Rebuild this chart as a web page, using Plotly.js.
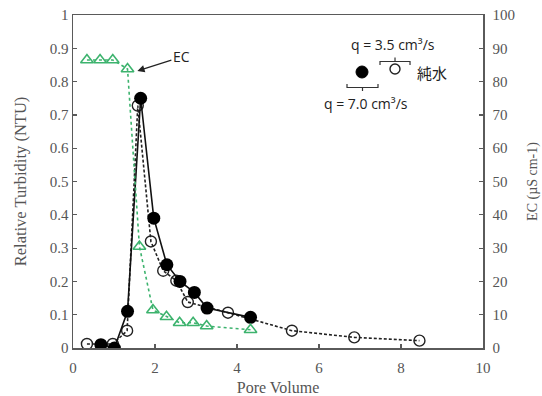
<!DOCTYPE html>
<html>
<head>
<meta charset="utf-8">
<script src="https://cdn.plot.ly/plotly-3.0.1.min.js"></script>
<style>html,body{margin:0;padding:0;background:#fff;}#chart{width:542px;height:396px;}</style>
</head>
<body>
<div id="chart"></div>
<script>
// q = 7.0 cm3/s (filled circles), relative turbidity
const fastPV = [0.68, 1.01, 1.33, 1.65, 1.97, 2.29, 2.61, 2.96, 3.27, 4.33];
const fastTurb = [0.01, 0.0, 0.11, 0.75, 0.39, 0.25, 0.20, 0.167, 0.12, 0.092];
// q = 3.5 cm3/s (open circles), relative turbidity
const slowPV = [0.34, 0.97, 1.32, 1.58, 1.90, 2.20, 2.52, 2.80, 3.78, 5.34, 6.86, 8.45];
const slowTurb = [0.012, 0.012, 0.052, 0.728, 0.32, 0.232, 0.202, 0.138, 0.106, 0.052, 0.032, 0.022];
// EC (right axis)
const ecPV = [0.34, 0.66, 0.97, 1.33, 1.62, 1.95, 2.28, 2.60, 2.93, 3.26, 4.33];
const ecVal = [86.5, 86.5, 86.5, 83.8, 30.5, 11.4, 9.4, 7.6, 7.6, 6.6, 5.5];

const green = '#3db36e';
const axisGray = '#5a5a5a';
const serif = 'Liberation Serif';
const sans = 'Open Sans';

// plot area pixel geometry (for legend decorations)
const L = 73, R = 483, T = 15, B = 348;
const px = x => (x - L) / (R - L);
const py = y => (B - y) / (B - T);

const traces = [
  {x: ecPV, y: ecVal, yaxis: 'y2', mode: 'lines+markers', type: 'scatter',
   line: {color: green, width: 1.6, dash: 'dot'},
   marker: {symbol: 'triangle-up-open', size: 11, color: green, line: {width: 1.6, color: green}}},
  {x: slowPV, y: slowTurb, mode: 'lines+markers', type: 'scatter',
   line: {color: '#222', width: 1.6, dash: '3px,2px'},
   marker: {symbol: 'circle-open', size: 11, color: '#222', line: {width: 1.4, color: '#222'}}},
  {x: fastPV, y: fastTurb, mode: 'lines+markers', type: 'scatter',
   line: {color: '#111', width: 1.6},
   marker: {symbol: 'circle', size: 13, color: '#000'}}
];

const tickFont = {family: serif, size: 15, color: '#555'};

function pathStr(pts) {
  return pts.map(s => s[0] + ' ' + px(s[1]).toFixed(4) + ',' + py(s[2]).toFixed(4)).join(' ');
}

const layout = {
  width: 542, height: 396,
  margin: {l: L, r: 542 - R, t: T, b: 396 - B},
  paper_bgcolor: '#fff', plot_bgcolor: '#fff',
  showlegend: false,
  font: {family: serif},
  xaxis: {range: [0, 10], dtick: 2, showgrid: false, zeroline: false,
    showline: true, linecolor: axisGray, linewidth: 1.5, mirror: true,
    ticks: 'inside', ticklen: 4, tickcolor: axisGray, tickwidth: 1.2, ticklabelstandoff: 5,
    tickfont: tickFont, title: {text: 'Pore Volume', font: {family: serif, size: 16, color: '#555'}, standoff: 8}},
  yaxis: {range: [0, 1], dtick: 0.1, showgrid: false, zeroline: false,
    showline: true, linecolor: axisGray, linewidth: 1.5,
    ticks: 'inside', ticklen: 4, tickcolor: axisGray, tickwidth: 1.2,
    tickfont: tickFont, title: {text: 'Relative Turbidity (NTU)', font: {family: serif, size: 16.5, color: '#555'}, standoff: 19}},
  yaxis2: {range: [0, 100], dtick: 10, overlaying: 'y', side: 'right', showgrid: false, zeroline: false,
    showline: true, linecolor: axisGray, linewidth: 1.5,
    ticks: 'inside', ticklen: 4, tickcolor: axisGray, tickwidth: 1.2, ticklabelstandoff: 5,
    tickfont: tickFont, title: {text: 'EC (µS cm-1)', font: {family: serif, size: 14, color: '#555'}, standoff: 13}},
  shapes: [
    {type: 'circle', xref: 'paper', yref: 'paper', xsizemode: 'pixel', ysizemode: 'pixel',
     xanchor: px(362), yanchor: py(72), x0: -6, x1: 6, y0: -6, y1: 6,
     fillcolor: '#000', line: {color: '#000', width: 1}},
    {type: 'circle', xref: 'paper', yref: 'paper', xsizemode: 'pixel', ysizemode: 'pixel',
     xanchor: px(395), yanchor: py(69), x0: -5, x1: 5, y0: -5, y1: 5,
     fillcolor: 'rgba(0,0,0,0)', line: {color: '#222', width: 1.4}},
    {type: 'path', xref: 'paper', yref: 'paper', line: {color: '#333', width: 1.2},
     path: pathStr([['M', 380, 65], ['L', 380, 61.5], ['L', 410, 61.5], ['L', 410, 65], ['M', 395, 61.5], ['L', 395, 57.5]])},
    {type: 'path', xref: 'paper', yref: 'paper', line: {color: '#333', width: 1.2},
     path: pathStr([['M', 347, 84], ['L', 347, 87.5], ['L', 378, 87.5], ['L', 378, 84], ['M', 362.5, 87.5], ['L', 362.5, 91]])}
  ],
  annotations: [
    {xref: 'x', yref: 'y', x: 1.57, y: 0.832, text: 'EC', showarrow: true,
     axref: 'pixel', ayref: 'pixel', ax: 44, ay: -14, arrowhead: 2, arrowsize: 1.2, arrowwidth: 1.2,
     arrowcolor: '#222', font: {family: sans, size: 14, color: '#222'}},
    {xref: 'paper', yref: 'paper', x: px(393), y: py(44), text: 'q = 3.5 cm³/s', showarrow: false,
     xanchor: 'center', yanchor: 'middle', font: {family: sans, size: 14, color: '#222'}},
    {xref: 'paper', yref: 'paper', x: px(366), y: py(103), text: 'q = 7.0 cm³/s', showarrow: false,
     xanchor: 'center', yanchor: 'middle', font: {family: sans, size: 14, color: '#222'}},
    {xref: 'paper', yref: 'paper', x: px(432), y: py(72), text: '純水', showarrow: false,
     xanchor: 'center', yanchor: 'middle', font: {family: 'Noto Sans CJK JP', size: 15, color: '#222'}}
  ]
};

Plotly.newPlot('chart', traces, layout, {staticPlot: true, displayModeBar: false});
</script>
</body>
</html>
